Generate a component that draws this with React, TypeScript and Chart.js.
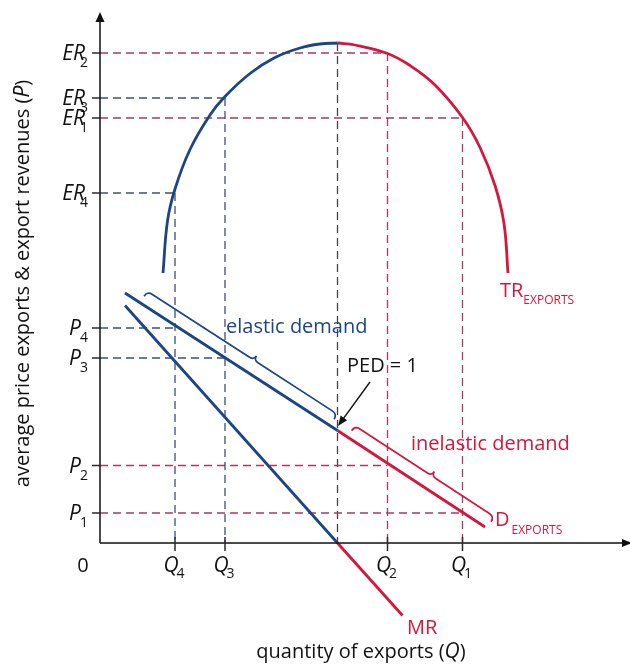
import { useEffect, useRef } from "react";
import { Chart, registerables } from "chart.js";

Chart.register(...registerables);

const FONT = "'Open Sans', 'Noto Sans', sans-serif";
const BLUE = "#1c4585";
const RED = "#d3173d";
const GUIDE_BLUE = "#3d5078";
const GUIDE_RED = "#a83a60";
const GUIDE_GRAY = "#454545";
const INK = "#111111";

// Quantity levels Q4, Q3, Q2, Q1 and the unit-elastic quantity
const Q_SUBS = ["4", "3", "2", "1"];
const Q_LEVELS = [15, 25, 57.5, 72.5];
const Q_UNIT = 47.5;

// Export revenue at those quantities: ER4, ER3, ER2, ER1
const ER_LEVELS = [70, 89, 98, 85];
// Price at those quantities: P4, P3, P2, P1
const P_LEVELS = [43, 37, 15.5, 6];
const TR_PEAK = 100;

// Demand curve (elastic part, inelastic part)
const D_ELASTIC_Q = [5, 47.5];
const D_ELASTIC_P = [50, 22.5];
const D_INELASTIC_Q = [47.5, 77];
const D_INELASTIC_P = [22.5, 3.2];

// Marginal revenue
const MR_POS_Q = [5, 47.5];
const MR_POS_P = [47.5, 0];
const MR_NEG_Q = [47.5, 60.5];
const MR_NEG_P = [0, -14.5];

// Total revenue curve
const TR_ELASTIC_Q = [12.6, 13.5, 15, 18, 22, 25, 30, 35, 40, 44, 47.5];
const TR_ELASTIC_R = [54, 64.4, 70.8, 78.7, 85.6, 89.3, 93.9, 97.1, 99.0, 99.8, 100];
const TR_INELASTIC_Q = [47.5, 51, 57.5, 62, 67, 72.5, 76, 79, 80.8, 81.6];
const TR_INELASTIC_R = [100, 99.6, 97.9, 95.5, 91.6, 85.1, 79.1, 71.5, 63.9, 54];

// Annotation anchors (data units)
const ELASTIC_BRACE = [{ x: 8, y: 48.1 }, { x: 46, y: 23.5 }];
const INELASTIC_BRACE = [{ x: 49.5, y: 21.2 }, { x: 77.4, y: 3.0 }];
const PED_ARROW = [{ x: 54, y: 32.2 }, { x: 47.6, y: 23.4 }];

const pts = (qs: number[], ps: number[]) => qs.map((q, i) => ({ x: q, y: ps[i] }));

type Part = { t: string; font: string; dx?: number; dy?: number };

function drawParts(ctx: CanvasRenderingContext2D, parts: Part[], x: number, y: number, align: "left" | "right" | "center") {
  ctx.textAlign = "left";
  ctx.textBaseline = "alphabetic";
  const widths = parts.map((p) => {
    ctx.font = p.font;
    return ctx.measureText(p.t).width + (p.dx || 0);
  });
  const total = widths.reduce((a, b) => a + b, 0);
  let cur = align === "right" ? x - total : align === "center" ? x - total / 2 : x;
  parts.forEach((p, i) => {
    ctx.font = p.font;
    ctx.fillText(p.t, cur + (p.dx || 0), y + (p.dy || 0));
    cur += widths[i];
  });
}

function drawBrace(ctx: CanvasRenderingContext2D, a: { x: number; y: number }, b: { x: number; y: number }, frac: number, off: number, hook: number, tip: number, color: string) {
  const dx = b.x - a.x, dy = b.y - a.y;
  const L = Math.hypot(dx, dy);
  const ux = dx / L, uy = dy / L;
  const nx = uy, ny = -ux;
  const P = (base: { x: number; y: number }, n: number, u: number) => ({ x: base.x + nx * n + ux * u, y: base.y + ny * n + uy * u });
  const m = { x: a.x + dx * frac, y: a.y + dy * frac };
  ctx.save();
  ctx.strokeStyle = color;
  ctx.lineWidth = 1.7;
  ctx.beginPath();
  let p = P(a, off - hook, 0);
  ctx.moveTo(p.x, p.y);
  let c = P(a, off, 0); p = P(a, off, hook);
  ctx.quadraticCurveTo(c.x, c.y, p.x, p.y);
  p = P(m, off, -tip); ctx.lineTo(p.x, p.y);
  c = P(m, off, 0); p = P(m, off + tip, 0);
  ctx.quadraticCurveTo(c.x, c.y, p.x, p.y);
  c = P(m, off, 0); p = P(m, off, tip);
  ctx.quadraticCurveTo(c.x, c.y, p.x, p.y);
  p = P(b, off, -hook); ctx.lineTo(p.x, p.y);
  c = P(b, off, 0); p = P(b, off - hook, 0);
  ctx.quadraticCurveTo(c.x, c.y, p.x, p.y);
  ctx.stroke();
  ctx.restore();
}

const diagramPlugin = {
  id: "diagram",
  afterDatasetsDraw(chart: any) {
    const ctx: CanvasRenderingContext2D = chart.ctx;
    const xs = chart.scales.x, ys = chart.scales.y;
    const X = (q: number) => xs.getPixelForValue(q);
    const Y = (p: number) => ys.getPixelForValue(p);
    const toPx = (d: { x: number; y: number }) => ({ x: X(d.x), y: Y(d.y) });
    const x0 = X(0), y0 = Y(0);

    ctx.save();
    // axes
    ctx.strokeStyle = INK;
    ctx.fillStyle = INK;
    ctx.lineWidth = 1.5;
    const yTop = Y(106.2);
    ctx.beginPath();
    ctx.moveTo(x0, y0);
    ctx.lineTo(x0, yTop + 6);
    ctx.moveTo(x0, y0);
    ctx.lineTo(chart.width, y0);
    ctx.stroke();
    ctx.beginPath();
    ctx.moveTo(x0, yTop);
    ctx.lineTo(x0 - 4.5, yTop + 10);
    ctx.lineTo(x0 + 4.5, yTop + 10);
    ctx.closePath();
    ctx.fill();
    ctx.beginPath();
    ctx.moveTo(chart.width + 2, y0);
    ctx.lineTo(chart.width - 8, y0 - 4);
    ctx.lineTo(chart.width - 8, y0 + 4);
    ctx.closePath();
    ctx.fill();

    // tick marks
    ctx.strokeStyle = "#2a2a2a";
    ctx.lineWidth = 1.5;
    ctx.beginPath();
    [...ER_LEVELS, ...P_LEVELS].forEach((v) => {
      ctx.moveTo(x0 - 8, Y(v));
      ctx.lineTo(x0, Y(v));
    });
    Q_LEVELS.forEach((q) => {
      ctx.moveTo(X(q), y0 - 6);
      ctx.lineTo(X(q), y0 + 8);
    });
    ctx.stroke();

    // braces
    drawBrace(ctx, toPx(ELASTIC_BRACE[0]), toPx(ELASTIC_BRACE[1]), 0.56, 13.5, 6, 5, BLUE);
    drawBrace(ctx, toPx(INELASTIC_BRACE[0]), toPx(INELASTIC_BRACE[1]), 0.55, 13.5, 6, 5, RED);

    // PED arrow
    const a0 = toPx(PED_ARROW[0]), a1 = toPx(PED_ARROW[1]);
    const ang = Math.atan2(a1.y - a0.y, a1.x - a0.x);
    ctx.strokeStyle = INK;
    ctx.fillStyle = INK;
    ctx.lineWidth = 1.4;
    ctx.beginPath();
    ctx.moveTo(a0.x, a0.y);
    ctx.lineTo(a1.x - Math.cos(ang) * 6, a1.y - Math.sin(ang) * 6);
    ctx.stroke();
    ctx.beginPath();
    ctx.moveTo(a1.x, a1.y);
    ctx.lineTo(a1.x - Math.cos(ang) * 10 + Math.sin(ang) * 4, a1.y - Math.sin(ang) * 10 - Math.cos(ang) * 4);
    ctx.lineTo(a1.x - Math.cos(ang) * 10 - Math.sin(ang) * 4, a1.y - Math.sin(ang) * 10 + Math.cos(ang) * 4);
    ctx.closePath();
    ctx.fill();

    // text
    const it = `italic 21px ${FONT}`;
    const rg = `20px ${FONT}`;
    const sub = `14px ${FONT}`;
    const small = `12px ${FONT}`;
    ctx.fillStyle = INK;
    ER_LEVELS.forEach((v, i) => {
      drawParts(ctx, [{ t: "ER", font: it }, { t: Q_SUBS[i], font: sub, dx: -5, dy: 7 }], x0 - 12, Y(v) + 6.5, "right");
    });
    P_LEVELS.forEach((v, i) => {
      drawParts(ctx, [{ t: "P", font: it }, { t: Q_SUBS[i], font: sub, dx: -1, dy: 7 }], x0 - 12, Y(v) + 7, "right");
    });
    Q_LEVELS.forEach((q, i) => {
      drawParts(ctx, [{ t: "Q", font: it }, { t: Q_SUBS[i], font: sub, dx: -2, dy: 6 }], X(q) - 1, y0 + 29, "center");
    });
    drawParts(ctx, [{ t: "0", font: rg }], x0 - 17, y0 + 29, "center");

    drawParts(ctx, [{ t: "quantity of exports (", font: rg }, { t: "Q", font: it }, { t: ")", font: rg }], 361, y0 + 115, "center");
    ctx.save();
    ctx.translate(29, 283.5);
    ctx.rotate(-Math.PI / 2);
    drawParts(ctx, [{ t: "average price exports & export revenues (", font: rg }, { t: "P", font: it }, { t: ")", font: rg }], 0, 0, "center");
    ctx.restore();

    ctx.fillStyle = BLUE;
    drawParts(ctx, [{ t: "elastic demand", font: rg }], X(25.2), Y(42), "left");
    ctx.fillStyle = RED;
    drawParts(ctx, [{ t: "inelastic demand", font: rg }], X(62.2), Y(18.6), "left");
    drawParts(ctx, [{ t: "TR", font: rg }, { t: "EXPORTS", font: small, dx: 0, dy: 7 }], X(80), Y(49.2), "left");
    drawParts(ctx, [{ t: "D", font: rg }, { t: "EXPORTS", font: small, dx: 2, dy: 8 }], X(79), Y(3.4), "left");
    drawParts(ctx, [{ t: "MR", font: rg }], X(61.4), Y(-18.2), "left");
    ctx.fillStyle = INK;
    drawParts(ctx, [{ t: "PED = 1", font: rg }], X(49.4), Y(34.2), "left");
    ctx.restore();
  },
};

function buildDatasets() {
  const guide = (data: { x: number; y: number }[], color: string) => ({
    data,
    showLine: true,
    borderColor: color,
    borderWidth: 1.3,
    borderDash: [8, 5],
    pointRadius: 0,
    tension: 0,
    order: 3,
  });
  const curve = (data: { x: number; y: number }[], color: string, tension = 0) => ({
    data,
    showLine: true,
    borderColor: color,
    borderWidth: 2.8,
    pointRadius: 0,
    tension,
    order: 1,
  });
  const sets: any[] = [];
  Q_LEVELS.forEach((q, i) => {
    const col = i < 2 ? GUIDE_BLUE : GUIDE_RED;
    sets.push(guide([{ x: 0, y: ER_LEVELS[i] }, { x: q, y: ER_LEVELS[i] }], col));
    sets.push(guide([{ x: 0, y: P_LEVELS[i] }, { x: q, y: P_LEVELS[i] }], col));
    sets.push(guide([{ x: q, y: ER_LEVELS[i] }, { x: q, y: 0 }], col));
  });
  sets.push(guide([{ x: Q_UNIT, y: TR_PEAK }, { x: Q_UNIT, y: 0 }], GUIDE_GRAY));
  sets.push(curve(pts(TR_ELASTIC_Q, TR_ELASTIC_R), BLUE, 0.4));
  sets.push(curve(pts(TR_INELASTIC_Q, TR_INELASTIC_R), RED, 0.4));
  sets.push(curve(pts(D_ELASTIC_Q, D_ELASTIC_P), BLUE));
  sets.push(curve(pts(D_INELASTIC_Q, D_INELASTIC_P), RED));
  sets.push(curve(pts(MR_POS_Q, MR_POS_P), BLUE));
  sets.push(curve(pts(MR_NEG_Q, MR_NEG_P), RED));
  return sets;
}

export default function App() {
  const ref = useRef<HTMLCanvasElement | null>(null);
  useEffect(() => {
    if (!ref.current) return;
    const chart = new Chart(ref.current, {
      type: "scatter",
      data: { datasets: buildDatasets() },
      options: {
        animation: false,
        responsive: false,
        devicePixelRatio: 1,
        layout: { padding: { left: 100, right: 0, top: 3, bottom: 1 } },
        scales: {
          x: { type: "linear", min: 0, max: 106, display: false },
          y: { type: "linear", min: -25, max: 108, display: false },
        },
        plugins: { legend: { display: false }, tooltip: { enabled: false } },
        datasets: { scatter: { clip: false } as any },
      } as any,
      plugins: [diagramPlugin],
    });
    const fonts: any = (document as any).fonts;
    if (fonts && fonts.load) {
      Promise.all([fonts.load(`20px 'Open Sans'`), fonts.load(`italic 21px 'Open Sans'`)]).then(() => chart.draw()).catch(() => {});
    }
    return () => chart.destroy();
  }, []);
  return (
    <div style={{ position: "absolute", left: 0, top: 0, width: 630, height: 669, background: "#fff" }}>
      <canvas ref={ref} width={630} height={669} />
    </div>
  );
}
